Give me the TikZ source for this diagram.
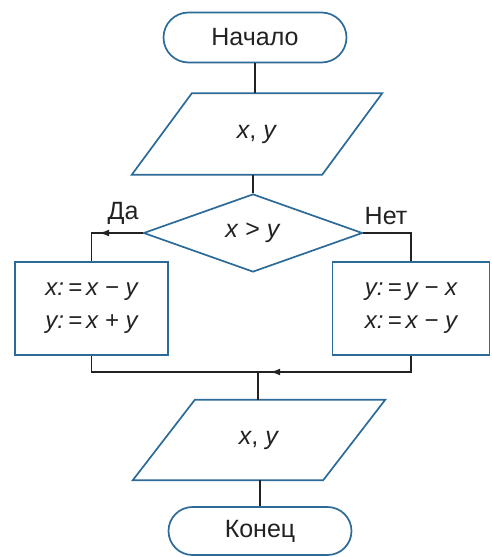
\documentclass[tikz,border=0pt]{standalone}
\usepackage{fontspec}
\setmainfont{Liberation Sans}
\usetikzlibrary{shapes.geometric,shapes.misc,arrows.meta,decorations.markings}
\definecolor{shapeblue}{HTML}{2C6A98}
\definecolor{linegray}{HTML}{222222}
\begin{document}
\begin{tikzpicture}[x=1pt,y=-1pt,
  every node/.style={font=\fontsize{25}{32}\selectfont, text=linegray},
  term/.style={draw=shapeblue, line width=1.7pt, rounded rectangle, minimum width=183pt, minimum height=50pt, inner sep=0pt, fill=white},
  iotext/.style={rectangle, minimum width=190pt, minimum height=81pt, inner sep=0pt},
  iodraw/.style={draw=shapeblue, line width=1.7pt, line join=miter},
  cond/.style={draw=shapeblue, line width=1.7pt, diamond, minimum width=219pt, minimum height=78pt, inner sep=0pt, fill=white},
  proc/.style={draw=shapeblue, line width=1.7pt, rectangle, minimum height=93pt, inner sep=0pt, fill=white, align=center, font=\fontsize{24}{33}\selectfont\itshape},
  conn/.style={draw=linegray, line width=1.5pt},
  midarrow/.style={postaction={decorate}, decoration={markings, mark=at position #1 with {\arrow{Latex[length=10pt,width=7pt]}}}}
]
\useasboundingbox (0,0) rectangle (491,557);
\node[term] (start) at (255,37.5) {Начало};
\node[iotext] (in) at (257,134) {\textit{x}, \textit{y}};
\draw[iodraw] ([xshift=-30pt]in.south west) -- ([xshift=30pt]in.north west) -- ([xshift=30pt]in.north east) -- ([xshift=-30pt]in.south east) -- cycle;
\node[cond] (dia) at (253,233) {\textit{x} > \textit{y}};
\node[proc, minimum width=153pt] (lbox) at (91.5,308.5) {x:\,=\,x − y\\y:\,=\,x + y};
\node[proc, minimum width=157pt] (rbox) at (411,308.5) {y:\,=\,y − x\\x:\,=\,x − y};
\node[iotext, minimum height=80pt] (out) at (259,440) {\textit{x}, \textit{y}};
\draw[iodraw] ([xshift=-31pt]out.south west) -- ([xshift=31pt]out.north west) -- ([xshift=31pt]out.north east) -- ([xshift=-31pt]out.south east) -- cycle;
\node[term, minimum height=48pt] (end) at (260,531) {Конец};
\coordinate (merge) at (258,372);

\draw[conn] (start.south) -- (in.north -| start.south);
\draw[conn] (in.south -| dia.north) -- (dia.north);
\draw[conn] (dia.west) -| (lbox.north);
\draw[conn, midarrow=0.85] (dia.west) -- (dia.west -| lbox.north);
\draw[conn] (dia.east) -| (rbox.north);
\draw[conn] (lbox.south) |- (merge);
\draw[conn] (rbox.south) |- (merge);
\draw[conn, midarrow=0.92] (rbox.south |- merge) -- (merge);
\draw[conn] (merge) -- (out.north -| merge);
\draw[conn] (out.south -| end.north) -- (end.north);

\node[anchor=south] at (123,228) {Да};
\node[anchor=south] at (386,228) {Нет};
\end{tikzpicture}
\end{document}
